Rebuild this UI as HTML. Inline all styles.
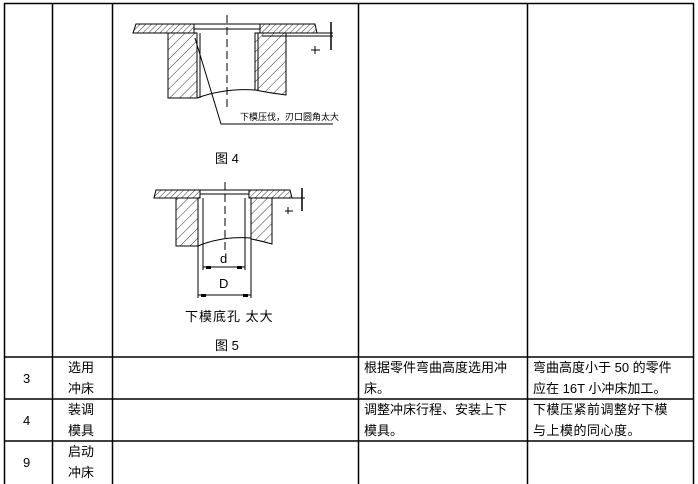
<!DOCTYPE html>
<html><head><meta charset="utf-8"><style>
body{margin:0;background:#fff;width:698px;height:484px;overflow:hidden;position:relative;font-family:"Liberation Sans","Noto Sans CJK SC","WenQuanYi Zen Hei",sans-serif;}
.t{position:absolute;font-size:13px;line-height:21px;color:#000;white-space:nowrap}
</style></head><body>
<svg width="698" height="484" style="position:absolute;left:0;top:0" xmlns="http://www.w3.org/2000/svg">
<defs>
<pattern id="h" width="4" height="4" patternUnits="userSpaceOnUse" patternTransform="rotate(45)"><line x1="0" y1="0" x2="0" y2="4" stroke="#000" stroke-width="0.8"/></pattern>
<pattern id="h2" width="7" height="7" patternUnits="userSpaceOnUse" patternTransform="rotate(45)"><line x1="0" y1="0" x2="0" y2="7" stroke="#000" stroke-width="0.8"/></pattern>
</defs>
<g stroke="#000" stroke-width="1.5" fill="none">
<line x1="4" y1="3.5" x2="694" y2="3.5"/>
<line x1="4.5" y1="3" x2="4.5" y2="484"/>
<line x1="52.5" y1="3" x2="52.5" y2="484"/>
<line x1="112.5" y1="3" x2="112.5" y2="484"/>
<line x1="358.5" y1="3" x2="358.5" y2="484"/>
<line x1="527.5" y1="3" x2="527.5" y2="484"/>
<line x1="693.5" y1="3" x2="693.5" y2="484"/>
<line x1="4" y1="357" x2="694" y2="357"/>
<line x1="4" y1="399" x2="694" y2="399"/>
<line x1="4" y1="441" x2="694" y2="441"/>
</g>
<!-- Fig 4 -->
<g stroke="#000" stroke-width="1" fill="none">
<polygon points="136,24 194,24 194,33 133,33" fill="url(#h)"/>
<polygon points="260,24 315,24 317,33 260,33" fill="url(#h)"/>
<rect x="194" y="24" width="66" height="5"/>
<line x1="260" y1="33" x2="333" y2="33"/><line x1="262" y1="36" x2="333" y2="36"/>
<rect x="168" y="33" width="29" height="65" fill="url(#h2)"/>
<path d="M255,33 H286 V95 Q270,93 255,90 Z" fill="url(#h2)"/>
<line x1="200" y1="33" x2="200" y2="98"/>
<line x1="258" y1="33" x2="258" y2="90"/>
<path d="M197,98 Q225,88 255,90"/>
<line x1="227" y1="15" x2="227" y2="108" stroke-dasharray="8,4"/>
<path d="M195,38 L198,48 L221,124 H333"/>
<line x1="331" y1="22" x2="331" y2="50" stroke-width="1.5"/>
<line x1="311" y1="50" x2="320" y2="50"/><line x1="315" y1="46" x2="315" y2="54"/>
</g>
<!-- Fig 5 -->
<g stroke="#000" stroke-width="1" fill="none">
<polygon points="156,190 200,190 200,198 154,198" fill="url(#h)"/>
<polygon points="249,190 290,190 292,198 249,198" fill="url(#h)"/>
<rect x="200" y="190" width="49" height="4"/>
<line x1="249" y1="198" x2="305" y2="198"/>
<rect x="176" y="198" width="22" height="48" fill="url(#h2)"/>
<path d="M251,198 H272 V244 Q262,241 251,239 Z" fill="url(#h2)"/>
<line x1="198" y1="198" x2="198" y2="298"/>
<line x1="203" y1="198" x2="203" y2="270"/>
<line x1="245" y1="198" x2="245" y2="270"/>
<line x1="251" y1="198" x2="251" y2="298"/>
<path d="M198,246 Q222,236 251,238"/>
<line x1="225" y1="182" x2="225" y2="250" stroke-dasharray="8,4"/>
<line x1="203" y1="267" x2="245" y2="267"/>
<line x1="198" y1="295" x2="251" y2="295"/>
<line x1="302" y1="188" x2="302" y2="211" stroke-width="1.5"/>
<line x1="285" y1="211" x2="293" y2="211"/><line x1="288" y1="207" x2="288" y2="214"/>
</g>
<g fill="#000"><rect x="206" y="266" width="5" height="3"/><rect x="237" y="266" width="5" height="3"/><rect x="201" y="294" width="5" height="3"/><rect x="243" y="294" width="5" height="3"/></g>
</svg>
<div class="t" style="left:240px;top:107px;font-size:9px">下模压伐，刃口圆角太大</div>
<div class="t" style="left:215px;top:148px;font-size:13px">图 4</div>
<div class="t" style="left:220px;top:248px;font-size:13px">d</div>
<div class="t" style="left:219px;top:273px;font-size:13px">D</div>
<div class="t" style="left:185px;top:306px;font-size:13px;letter-spacing:1px">下模底孔 太大</div>
<div class="t" style="left:215px;top:335px;font-size:13px">图 5</div>
<div class="t" style="left:23px;top:368px">3</div>
<div class="t" style="left:23px;top:410px">4</div>
<div class="t" style="left:23px;top:452px">9</div>
<div class="t" style="left:68px;top:357px">选用<br>冲床</div>
<div class="t" style="left:68px;top:399px">装调<br>模具</div>
<div class="t" style="left:68px;top:441px">启动<br>冲床</div>
<div class="t" style="left:364px;top:357px">根据零件弯曲高度选用冲<br>床。</div>
<div class="t" style="left:364px;top:399px">调整冲床行程、安装上下<br>模具。</div>
<div class="t" style="left:533px;top:357px">弯曲高度小于 50 的零件<br>应在 16T 小冲床加工。</div>
<div class="t" style="left:533px;top:399px;letter-spacing:0.5px">下模压紧前调整好下模<br>与上模的同心度。</div>
</body></html>
